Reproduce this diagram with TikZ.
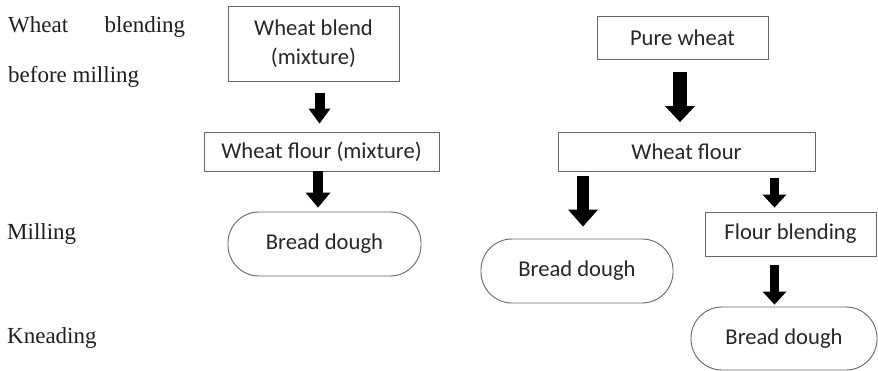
\documentclass[tikz,border=0pt]{standalone}
\usepackage{fontspec}
\setmainfont{Liberation Serif}
\newfontfamily\boxfont{Carlito}
\usetikzlibrary{arrows.meta}
\begin{document}
\begin{tikzpicture}[x=1pt,y=-1pt,
  stagelabel/.style={font=\fontsize{23}{50}\selectfont, text=black!88,
    inner sep=0pt, anchor=north west, align=left},
  procbox/.style={draw=black!60, line width=0.9pt,
    font=\boxfont\fontsize{22.6}{29}\selectfont, text=black!85,
    inner sep=0pt, align=center},
  doughbox/.style={procbox, rounded corners=31pt},
  blockarrow/.style n args={3}{line width=#1,
    -{Triangle[length=#3 0 0, width=#2 0 0, line width=0pt]}},
]
\useasboundingbox (0,0) rectangle (878,371);

% process stages on the left
\node[stagelabel] (stblend) at (8,16)
  {\makebox[177pt][s]{Wheat blending}\\before milling};
\node[stagelabel] (stmill) at (7,223) {Milling};
\node[stagelabel] (stknead) at (7,327) {Kneading};

% route 1: blending the wheat before milling
\node[procbox, minimum width=171pt, minimum height=75pt] (wblend) at (313.5,43.5)
  {Wheat blend\\(mixture)};
\node[procbox, minimum width=235pt, minimum height=39pt] (wflourmix) at (321.5,151.5)
  {Wheat flour (mixture)};
\node[doughbox, minimum width=193pt, minimum height=64pt] (dough1) at (324.5,244)
  {Bread dough};

% route 2: milling pure wheat, then blending (or not) the flour
\node[procbox, minimum width=171pt, minimum height=43pt] (pure) at (682.5,37.5)
  {Pure wheat};
\node[procbox, minimum width=257pt, minimum height=39pt] (wflour) at (686.5,152)
  {Wheat flour};
\node[doughbox, minimum width=192pt, minimum height=64pt] (dough2) at (577,271)
  {Bread dough};
\node[procbox, minimum width=171pt, minimum height=44pt] (fblend) at (790.5,234)
  {Flour blending};
\node[doughbox, minimum width=186pt, minimum height=63pt] (dough3) at (784,338.5)
  {Bread dough};

% block arrows
\draw[blockarrow={10pt}{22pt}{15pt}]
  ([shift={(6,12)}]wblend.south) -- ([shift={(-2,-8)}]wflourmix.north);
\draw[blockarrow={10pt}{25pt}{15pt}]
  ([shift={(-3.5,0)}]wflourmix.south) -- ([shift={(-6.5,-4)}]dough1.north);
\draw[blockarrow={14pt}{30pt}{16pt}]
  ([shift={(-2.5,13)}]pure.south) -- ([shift={(-6.5,-10)}]wflour.north);
\draw[blockarrow={12pt}{30pt}{17pt}]
  ([shift={(-103.5,4)}]wflour.south) -- ([shift={(6,-12)}]dough2.north);
\draw[blockarrow={9.5pt}{24pt}{13pt}]
  ([shift={(88,6)}]wflour.south) -- ([shift={(-16,-4)}]fblend.north);
\draw[blockarrow={9.5pt}{24pt}{13pt}]
  ([shift={(-16,9)}]fblend.south) -- ([shift={(-9.5,-2)}]dough3.north);
\end{tikzpicture}
\end{document}
